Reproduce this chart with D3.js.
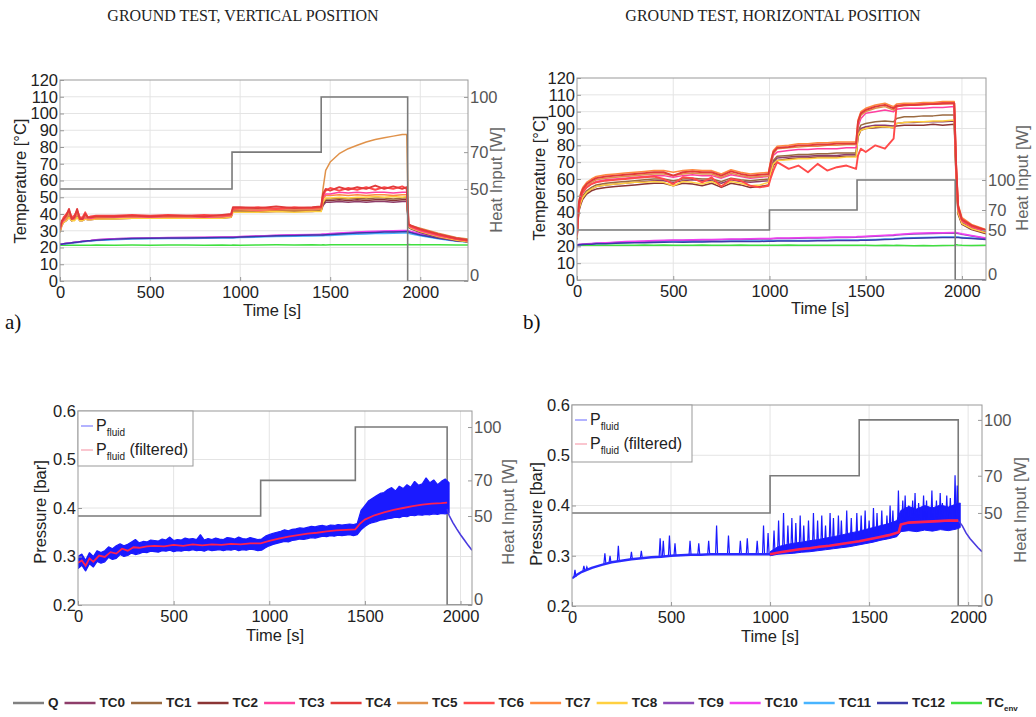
<!DOCTYPE html>
<html>
<head>
<meta charset="utf-8">
<script src="https://cdn.jsdelivr.net/npm/d3@7"></script>
<style>
body { margin: 0; background: #fff; }
svg { display: block; }
text { font-family: Arial, "Liberation Sans", sans-serif; }
</style>
</head>
<body>
<svg id="chart" width="1036" height="717"></svg>
<script>
// ---- names / colours
var tcNames = ["TC0","TC1","TC2","TC3","TC4","TC5","TC6","TC7","TC8","TC9","TC10","TC11","TC12","TCenv"]
var tcColors = ["#8e3d6a","#9a6a40","#8b3434","#ff3fa0","#e23a3a","#e0924a","#ff4a4a","#ff8a40","#ffd040","#8a48b8","#f040f0","#48b4ff","#3a3aa8","#40e040"]
var drawOrder = [13,11,9,10,12,0,2,1,8,7,3,5,6,4]

// ---- heat input steps
var qVt = [0, 955, 1450, 1930, 2265], qVv = [50, 70, 100, 0, 0]
var qHt = [0, 1000, 1455, 1965, 2125], qHv = [50, 70, 100, 0, 0]
var qHPt = [0, 1000, 1450, 1950, 2070], qHPv = [50, 70, 100, 0, 0]

// ---- a) vertical position, temperatures
var tV = [0,10,20,35,50,65,80,95,110,125,140,155,170, 200,300,400,500,600,700,800,900,950,
  960,1000,1100,1200,1300,1400,1450, 1460,1475,1500,1550,1600,1650,1700,1750,1800,1850,1900,1925,
  1935,1950,2000,2100,2200,2265]
var vTC0 = [29,33,35,36,38,36,36.5,38,36,36,37,36.5,36.5, 37,37,37.5,37.5,37.5,37.5,37.5,37.5,38, 41.5,41.5,41,41.5,41.5,41.5,42, 45,47,47,47.5,47,47.5,47,47.5,47.5,47,47.5,47.5, 32,31,29,26,24,23.5]
var vTC1 = [30,34,36,37,39,36.5,37,39,36.5,36.5,37.5,37,37, 37.5,37.5,38,38,38,38,38,38,38.5, 42,42,42,42,42,42,42.5, 47,49,49,49.5,49,49.5,49,49.5,49.5,49,49.5,49.5, 32.5,31.5,29.5,26.5,24.5,23.5]
var vTC2 = [30,34,36,37,39,36,37,39,36.5,36.5,37.5,37,37, 37.5,37.5,38,38,38,38,38,38,38.5, 42,42,41.5,42,42,42,42.5, 46,48,48,48.5,48,48.5,48,48.5,48.5,48,48.5,48.5, 32.5,31.5,29.5,26.5,24.5,23.5]
var vTC3 = [31,35,36,38,41,37,37.5,41,37,37,38,37.5,37.5, 38,38,38.5,38,38.5,38.5,38,38.5,39, 43,43,42.5,43,43,43,43.5, 50,52,52,53,52.5,53,52.5,53,53,52.5,53,53, 33,32,30,27,25,24]
var vTC4 = [32,36,37,39,43,37,38,43,37,37,40,38,38, 38.5,38.5,39,38.5,39,39,38.5,39.5,40, 44,44,43.5,44.5,43.5,44,44.5, 52,55,54,56,54.5,56,55,57,55,56.5,55,56, 34,33,31,28,25.5,24.5]
var vTC5 = [31,35,37,38,41,37,38,41,37,37,39,37.5,38, 38,38.5,38.5,38.5,38.5,38.5,38.5,39,39, 43,43,43,43,43,43,43.5, 55,66,71,76,79,81,83,84.5,85.5,86.5,87.5,87.5, 34,33,31.5,28.5,26,25]
var vTC6 = [31,35,38,40,42,38,39,42,38,38,41,38,38.5, 39,39,39.5,39,39.5,39,39.5,39,39.5, 43,43.5,44,43,44,43.5,44, 51,54,55.5,54,55.5,54.5,56,54.5,56,55,56.5,55, 33.5,32.5,30.5,27.5,25,24]
var vTC7 = [30,34,36,37,40,37,37,40,37,37,38,37,37, 37.5,38,38,38,38,38,38,38.5,38.5, 42.5,42.5,42,42.5,42.5,42.5,43, 49,51,51,51.5,51,51.5,51,51.5,51.5,51,51.5,51.5, 33,32,30,27,25,24]
var vTC8 = [29,33,35,36,38,36,36,38,36,36,37,36.5,36.5, 37,37,37.5,37.5,37.5,37.5,37.5,37.5,38, 41,41,41,41.5,41,41.5,41.5, 47,49.5,49.5,50,49.5,50,50,50.5,50,50.5,50,50.5, 32.5,31.5,29.5,26.5,24.5,23.5]
var vTC9 = [22,22.1,22.3,22.5,22.7,22.9,23.1,23.3,23.5,23.7,23.9,24.1,24.2, 24.6,25.2,25.5,25.7,25.8,25.9,26,26.1,26.2, 26.2,26.4,26.8,27.2,27.4,27.6,27.7, 27.7,27.8,28,28.3,28.6,28.9,29.1,29.3,29.5,29.6,29.7,29.8, 29.6,29.1,27.8,25.8,24.2,23.6]
var vTC10 = [22,22.1,22.3,22.5,22.7,22.9,23.1,23.3,23.5,23.7,23.9,24.1,24.2, 24.6,25.2,25.5,25.7,25.9,26,26.1,26.2,26.3, 26.3,26.5,26.9,27.3,27.6,27.8,27.9, 28,28.1,28.3,28.7,29,29.3,29.5,29.7,29.9,30,30.1,30.2, 30,29.5,28.2,26.2,24.6,24]
var vTC11 = [21.8,21.9,22,22.2,22.4,22.6,22.8,23,23.2,23.4,23.6,23.8,23.9, 24.2,24.7,25,25.2,25.3,25.4,25.5,25.6,25.7, 25.7,25.9,26.2,26.5,26.7,26.9,27, 27,27.1,27.2,27.4,27.7,27.9,28.1,28.3,28.4,28.5,28.6,28.7, 28.5,28,27,25.2,23.8,23.3]
var vTC12 = [22,22,22.2,22.4,22.6,22.8,23,23.2,23.4,23.6,23.8,24,24.1, 24.4,25,25.3,25.5,25.6,25.7,25.8,25.9,26, 26,26.2,26.6,27,27.2,27.4,27.5, 27.5,27.6,27.7,28,28.3,28.6,28.8,29,29.2,29.3,29.4,29.5, 29.3,28.8,27.5,25.5,24,23.5]
var vTCenv = [21.3,21.3,21.3,21.4,21.3,21.4,21.3,21.4,21.4,21.3,21.4,21.4,21.4, 21.5,21.4,21.5,21.4,21.5,21.5,21.4,21.5,21.4, 21.5,21.4,21.5,21.6,21.5,21.6,21.5, 21.6,21.5,21.6,21.7,21.6,21.7,21.6,21.7,21.6,21.7,21.6,21.7, 21.8,21.7,21.6,21.6,21.5,21.5]

// ---- b) horizontal position, temperatures
var tH = [0,5,10,20,30,50,75,100,150,200,250,300, 350,400,450,500,550,600,650,700,750,800,850,900,950,995,
  1005,1020,1040,1100,1150,1200,1250,1300,1350,1400,1450, 1460,1475,1500,1550,1600,1645,1660,1700,1750,1800,1850,1900,1960,
  1970,1980,2000,2050,2125]
var hTC0 = [25,35,42,46,49,52,54,55.5,56.5,57,57.5,58, 58.5,59,59,58,59,59.5,59,59,57.5,59.5,58.5,58,58.5,59, 64,70,72.5,73,73.5,73.5,74,74,74,74.5,74.5, 86,90,91,92,92,91.5,93,93.5,93.5,94,94,94,94.5, 60,40,33.5,30.5,28]
var hTC1 = [25,36,43,47,50,53,55,56.5,57.5,58,58.5,59, 59.5,60,60,59,60,60.5,60,60,58.5,60.5,59.5,59,59.5,60, 65,71,73.5,74,74.5,74.5,75,75,75.5,75.5,75.5, 88,92,93,94,94.5,94,96,97,97,97.5,97.5,98,98, 62,41,34,31,28.5]
var hTC2 = [24,34,41,45,48,51,53,54,55,55.5,56,56.5, 57,57.5,57.5,56,57.5,57,56,57.5,55,57.5,56.5,55,55.5,56.5, 62,68,71,72,72.5,72.5,73,73,73,73.5,73.5, 85,89,90,90.5,91,90.5,91.5,92,92,92,92.5,92,92.5, 58,39,33,30,27.5]
var hTC3 = [26,37,44,49,52,55,57,58.5,59.5,60,60.5,61, 61.5,62,62,61,62,62.5,62,62,60.5,62.5,61.5,60.5,61,61.5, 67,74,76,77,77.5,77.5,78,78,78,78.5,78.5, 91,96,99,100,101,100,101.5,102,102,102,102.5,102.5,103, 65,42,35,31.5,29]
var hTC4 = [27,39,46,51,54,57,59,60.5,61.5,62,62.5,63, 63.5,64,64,62,64,64.5,64,64,62,64.5,63,62,62.5,63, 69,76,78.5,79,80,80,80.5,80.5,81,81,81, 94,99,101,103,104,102,103.5,104,104,104.5,104.5,105,105, 68,44,36,32.5,29.5]
var hTC5 = [27,38,45,50,53,56,58,59.5,60.5,61,61.5,62, 62.5,63,63,62,63,63.5,63,63,61,63.5,62,61,61.5,62, 68,75,78,78.5,79,79.5,79.5,80,80,80.5,80.5, 93,98,100,102,103,101,103,103.5,104,104,104.5,104.5,105, 67,43,35.5,32,29.5]
var hTC6 = [26,37,44,49,52,55,57,58,59,59.5,60,60.5, 61,61.5,60,57,61,60.5,58,61,55.5,60,59,56,55,56, 60,65,70,66,68,64,69,65,67,68,66, 74,78,76,80,78,84,103,104,104,104.5,104.5,105,105, 67,43,35.5,32,29.5]
var hTC7 = [28,40,47,52,55,58,60,61.5,62.5,63,63.5,64, 64.5,65,65,64,65,65.5,65,65,63,65.5,64,63,63.5,64, 70,77,79.5,80,81,81,81.5,81.5,82,82,82, 95,100,102,104,105,103,104.5,105,105,105.5,105.5,106,106, 70,45,37,33,30]
var hTC8 = [25,35,42,46,49,52,54,55.5,56.5,57,57.5,58, 58,58.5,58,56,58.5,58,57,58.5,56,58.5,57.5,56,56.5,58, 63,69,71,71.5,72,72,72.5,72.5,72.5,73,73, 86,89,90,91,91,90.5,93,93.5,94,94,94.5,94.5,95, 60,40,33.5,30.5,28]
var hTC9 = [21,21,21.1,21.2,21.3,21.4,21.6,21.8,22,22.3,22.5,22.7, 22.9,23.1,23.3,23.4,23.5,23.6,23.7,23.8,23.9,24,24.1,24.2,24.3,24.4, 24.4,24.5,24.6,24.7,24.8,24.9,25,25.1,25.2,25.3,25.4, 25.5,25.6,25.7,26,26.3,26.5,26.7,27,27.3,27.5,27.6,27.7,27.8, 27.8,27.6,27.1,26.1,24.6]
var hTC10 = [21,21,21.1,21.2,21.3,21.5,21.7,21.9,22.2,22.5,22.8,23, 23.2,23.4,23.6,23.7,23.8,23.9,24,24.1,24.2,24.3,24.4,24.5,24.6,24.7, 24.7,24.8,24.9,25,25.1,25.2,25.3,25.4,25.5,25.6,25.7, 25.8,25.9,26,26.3,26.6,26.9,27.1,27.4,27.7,27.9,28,28.1,28.2, 28.2,28,27.5,26.5,25]
var hTC11 = [20.8,20.8,20.9,21,21.2,21.3,21.5,21.7,21.9,22.1,22.3,22.4, 22.5,22.6,22.7,22.8,22.8,22.9,22.9,23,23,23.1,23.1,23.2,23.2,23.3, 23.3,23.3,23.4,23.4,23.5,23.5,23.6,23.6,23.7,23.7,23.8, 23.8,23.9,23.9,24.1,24.3,24.5,24.7,24.9,25.1,25.3,25.4,25.5,25.6, 25.6,25.5,25.3,24.9,24.3]
var hTC12 = [20.8,20.8,20.9,21,21.1,21.2,21.3,21.5,21.6,21.8,22,22.1, 22.2,22.3,22.4,22.5,22.5,22.6,22.6,22.7,22.7,22.8,22.8,22.9,22.9,23, 23,23,23.1,23.1,23.2,23.2,23.3,23.3,23.4,23.4,23.5, 23.5,23.6,23.6,23.8,24,24.2,24.4,24.6,24.8,25,25.1,25.2,25.3, 25.3,25.2,25,24.6,24]
var hTCenv = [20.6,20.6,20.6,20.6,20.6,20.6,20.6,20.7,20.7,20.7,20.7,20.7, 20.8,20.7,20.8,20.7,20.6,20.7,20.8,20.7,20.6,20.7,20.8,20.7,20.6,20.7, 20.7,20.6,20.7,20.8,20.7,20.6,20.7,20.6,20.7,20.6,20.7, 20.6,20.7,20.6,20.5,20.6,20.5,20.6,20.5,20.4,20.5,20.4,20.5,20.6, 21,20.8,20.6,20.5,20.6]

// ---- vertical position, pressure
var pvBandT = d3.range(0, 1941, 20)
var pvLo = [.275,.282,.270,.285,.278,.290,.286,.289,.298,.294, .296,.304,.300,.302,.307,.304,.306,.309,.308,.311,
  .310,.309,.312,.311,.313,.310,.312,.311,.313,.312, .314,.312,.313,.311,.314,.312,.313,.314,.312,.314,
  .313,.315,.312,.314,.313,.315,.314,.312,.313,.318, .322,.325,.327,.329,.331,.330,.333,.334,.336,.335,
  .337,.339,.338,.340,.342,.341,.343,.342,.344,.343, .344,.345,.343,.345,.355,.362,.367,.370,.372,.375,
  .376,.378,.379,.381,.380,.383,.382,.385,.384,.386, .385,.387,.386,.388,.387,.389,.388,.390]
var pvHi = [.300,.305,.292,.308,.300,.312,.308,.312,.320,.316, .322,.326,.322,.325,.330,.335,.328,.331,.330,.334,
  .333,.332,.336,.334,.340,.333,.335,.334,.338,.336, .337,.335,.345,.334,.337,.335,.338,.336,.335,.339,
  .338,.336,.340,.337,.336,.339,.337,.335,.336,.342, .345,.348,.350,.352,.355,.353,.356,.357,.359,.358,
  .360,.362,.361,.363,.364,.362,.365,.364,.366,.365, .366,.367,.366,.368,.395,.405,.415,.420,.425,.430,
  .432,.438,.442,.435,.445,.440,.448,.443,.455,.447, .450,.462,.452,.458,.448,.455,.460,.452]
var pvFiltT = [0,20,40,60,80,110,140,170,200,230,260,290,320,360,400,450,500,550,600,650,700,750,800,850,900,955,
  1000,1050,1100,1150,1200,1250,1300,1350,1400,1450,1475,1500,1550,1600,1650,1700,1750,1800,1850,1900,1930]
var pvFiltV = [.287,.292,.281,.296,.289,.302,.299,.309,.306,.316,.312,.319,.318,.321,.322,.321,.324,.322,.325,.323,
  .325,.324,.326,.325,.327,.327,.332,.337,.341,.344,.347,.349,.352,.354,.355,.356,.368,.376,.385,.391,.396,.400,
  .404,.407,.409,.410,.411]
var pvDecT = [1930,1940,1960,1980,2000,2020,2040,2060]
var pvDecV = [.398,.385,.370,.357,.345,.334,.323,.313]

// ---- horizontal position, pressure
var phFiltT = [0,25,50,75,100,150,200,250,300,350,400,450,500,550,600,650,700,750,800,850,900,950,1000,1050,1100,
  1150,1200,1250,1300,1350,1400,1450,1500,1550,1600,1650,1660,1700,1750,1800,1850,1900,1950]
var phFiltV = [.255,.262,.268,.272,.276,.282,.287,.290,.293,.295,.297,.298,.300,.301,.302,.302,.303,.303,.303,.303,
  .303,.303,.303,.307,.310,.313,.315,.318,.320,.323,.326,.329,.333,.337,.341,.347,.362,.366,.367,.368,.369,.370,.370]
var phDecT = [1950,1970,1990,2010,2030,2050,2070]
var phDecV = [.370,.360,.345,.334,.325,.316,.308]
var phBand = [[1000,.300,.308],[1040,.303,.318],[1080,.304,.322],[1120,.305,.325],[1160,.307,.327],[1200,.308,.330],
  [1240,.310,.332],[1280,.312,.335],[1320,.314,.338],[1360,.316,.341],[1400,.318,.345],[1440,.321,.348],[1480,.324,.352],
  [1520,.327,.356],[1560,.331,.360],[1600,.334,.364],[1640,.338,.370],[1660,.348,.390],[1700,.350,.398],[1740,.348,.393],
  [1780,.351,.400],[1820,.349,.395],[1860,.352,.401],[1900,.350,.397],[1940,.353,.403],[1960,.356,.405]]
var phSpikes = [[15,.258,.272],[60,.270,.280],[75,.272,.278],[166,.284,.305],[192,.286,.300],[234,.289,.320],[300,.293,.308],
  [350,.295,.310],[445,.298,.335],[461,.298,.330],[492,.300,.340],[520,.300,.325],[596,.302,.330],[640,.302,.325],
  [690,.303,.330],[730,.303,.360],[790,.303,.340],[850,.303,.330],[885,.303,.335],[935,.303,.330],[967,.303,.360],
  [990,.303,.345],[1020,.305,.350],[1043,.306,.370],[1068,.308,.385],[1090,.309,.360],[1110,.310,.375],[1130,.311,.365],
  [1152,.312,.380],[1170,.313,.360],[1194,.315,.370],[1219,.316,.385],[1240,.317,.370],[1261,.318,.380],[1280,.319,.360],
  [1303,.320,.385],[1320,.321,.375],[1345,.323,.380],[1360,.324,.370],[1387,.325,.390],[1410,.327,.375],[1438,.328,.385],
  [1460,.330,.380],[1480,.331,.390],[1500,.333,.370],[1522,.335,.395],[1540,.336,.385],[1564,.338,.390],[1590,.340,.380],
  [1606,.342,.400],[1620,.343,.390],[1648,.347,.430],[1670,.362,.410],[1682,.363,.420],[1700,.366,.400],[1720,.366,.410],
  [1732,.366,.425],[1750,.367,.405],[1775,.367,.420],[1790,.368,.410],[1817,.368,.430],[1840,.369,.410],[1859,.369,.425],
  [1870,.369,.405],[1892,.370,.420],[1910,.370,.415],[1934,.370,.460],[1945,.370,.440]]

// ---- ticks
var timeTicks = [0, 500, 1000, 1500, 2000]
var tempTicks = d3.range(0, 121, 10)
var presTicks = [0.2, 0.3, 0.4, 0.5, 0.6]
var qTicks = [0, 50, 70, 100]

var svg = d3.select("#chart")
var clipId = 0

function panel(o) {
    var g = svg.append("g"),
        x = d3.scaleLinear().domain([0, o.xMax]).range([o.l, o.r]),
        y = d3.scaleLinear().domain(o.yDom).range([o.b, o.t]),
        yq = d3.scaleLinear().domain([0, o.qMax]).range([o.b, o.t])

    // grid
    g.selectAll(null).data(timeTicks.slice(1)).enter().append("line")
        .attr("x1", x).attr("x2", x).attr("y1", o.t).attr("y2", o.b)
        .attr("stroke", "#e4e4e4")
    g.selectAll(null).data(o.yTicks.slice(1, -1)).enter().append("line")
        .attr("x1", o.l).attr("x2", o.r).attr("y1", y).attr("y2", y)
        .attr("stroke", "#e4e4e4")

    var id = "clip" + (clipId++)
    svg.append("clipPath").attr("id", id).append("rect")
        .attr("x", o.l).attr("y", o.t).attr("width", o.r - o.l).attr("height", o.b - o.t)
    var plot = g.append("g").attr("clip-path", "url(#" + id + ")")

    // axes
    var ax = g.append("g").attr("transform", "translate(0," + o.b + ")")
        .call(d3.axisBottom(x).tickValues(timeTicks).tickFormat(d3.format("d")).tickSizeInner(-4).tickSizeOuter(0).tickPadding(5))
    var ay = g.append("g").attr("transform", "translate(" + o.l + ",0)")
        .call(d3.axisLeft(y).tickValues(o.yTicks).tickFormat(o.yFmt).tickSizeInner(-4).tickSizeOuter(0).tickPadding(2))
    var aq = g.append("g").attr("transform", "translate(" + o.r + ",0)")
        .call(d3.axisRight(yq).tickValues(qTicks).tickSizeInner(-4).tickSizeOuter(0).tickPadding(2))
    ;[ax, ay, aq].forEach(function(a) {
        a.select(".domain").remove()
        a.selectAll("line").attr("stroke", "#999")
        a.selectAll("text").attr("font-size", 16.5).attr("fill", "#222").style("font-family", "Arial, 'Liberation Sans', sans-serif")
    })
    aq.selectAll("text").attr("fill", "#555")
    // the right-hand zero sits a little above the corner, as in the figure
    aq.selectAll(".tick").filter(function(d) { return d == 0 }).select("text").attr("dy", "-0.05em")

    g.append("rect").attr("x", o.l).attr("y", o.t).attr("width", o.r - o.l).attr("height", o.b - o.t)
        .attr("fill", "none").attr("stroke", "#999")

    // labels
    g.append("text").attr("transform", "translate(" + o.ylx + "," + o.lyc + ") rotate(-90)")
        .attr("text-anchor", "middle").attr("font-size", 16.5).attr("fill", "#222").text(o.yLabel)
    g.append("text").attr("transform", "translate(" + o.qlx + "," + o.qyc + ") rotate(-90)")
        .attr("text-anchor", "middle").attr("font-size", 16.5).attr("fill", "#666").text("Heat Input [W]")
    g.append("text").attr("x", o.tx).attr("y", o.ty).attr("text-anchor", "middle")
        .attr("font-size", 16.5).attr("fill", "#222").text("Time [s]")

    return { g: g, plot: plot, x: x, y: y, yq: yq }
}

function drawQ(p, ts, vs) {
    var line = d3.line().curve(d3.curveStepAfter).x(function(d) { return p.x(d[0]) }).y(function(d) { return p.yq(d[1]) })
    p.plot.append("path").datum(d3.zip(ts, vs)).attr("d", line)
        .attr("fill", "none").attr("stroke", "#7a7a7a").attr("stroke-width", 1.6)
}

function drawTemps(p, ts, series) {
    var line = d3.line().x(function(d) { return p.x(d[0]) }).y(function(d) { return p.y(d[1]) })
    drawOrder.forEach(function(i) {
        p.plot.append("path").datum(d3.zip(ts, series[i])).attr("d", line)
            .attr("fill", "none").attr("stroke", tcColors[i])
            .attr("stroke-width", (i == 4 || i == 6) ? 1.9 : 1.5)
            .attr("stroke-linejoin", "round")
    })
}

function pLegend(p, x0, y0, w, h) {
    var lg = p.g.append("g")
    lg.append("rect").attr("x", x0).attr("y", y0).attr("width", w).attr("height", h)
        .attr("fill", "#fff").attr("stroke", "#999")
    var rows = [{ c: "#8080ff", extra: "", yy: y0 + 20 }, { c: "#f7a0b0", extra: " (filtered)", yy: y0 + 44 }]
    rows.forEach(function(r) {
        lg.append("line").attr("x1", x0 + 3).attr("x2", x0 + 15).attr("y1", r.yy - 5).attr("y2", r.yy - 5)
            .attr("stroke", r.c).attr("stroke-width", 1.2)
        var t = lg.append("text").attr("x", x0 + 18).attr("y", r.yy).attr("font-size", 16).attr("fill", "#222")
        t.append("tspan").text("P")
        t.append("tspan").attr("font-size", 10).attr("dy", 5).text("fluid")
        if (r.extra) t.append("tspan").attr("dy", -5).attr("font-size", 16).text(r.extra)
    })
}

// ---- titles
var serif = "'Liberation Serif', 'Times New Roman', serif"
svg.append("text").attr("x", 243).attr("y", 21).attr("text-anchor", "middle")
    .style("font-family", serif).attr("font-size", 16).attr("fill", "#222")
    .text("GROUND TEST, VERTICAL POSITION")
svg.append("text").attr("x", 773).attr("y", 21).attr("text-anchor", "middle")
    .style("font-family", serif).attr("font-size", 16).attr("fill", "#222")
    .text("GROUND TEST, HORIZONTAL POSITION")
svg.append("text").attr("x", 5).attr("y", 329)
    .style("font-family", serif).attr("font-size", 21).attr("fill", "#111").text("a)")
svg.append("text").attr("x", 523).attr("y", 329)
    .style("font-family", serif).attr("font-size", 21).attr("fill", "#111").text("b)")

var fmtInt = d3.format("d"), fmtP = d3.format(".1f")

// ---- a) temperatures
var pTL = panel({ l: 60, r: 468, t: 80, b: 281, xMax: 2265, yDom: [0, 120], yTicks: tempTicks, yFmt: fmtInt, qMax: 109.2,
    yLabel: "Temperature [°C]", ylx: 26, lyc: 181, qlx: 502, qyc: 180, tx: 272, ty: 316 })
drawTemps(pTL, tV, [vTC0, vTC1, vTC2, vTC3, vTC4, vTC5, vTC6, vTC7, vTC8, vTC9, vTC10, vTC11, vTC12, vTCenv])
drawQ(pTL, qVt, qVv)

// ---- b) temperatures
var pTR = panel({ l: 577, r: 986, t: 78, b: 280, xMax: 2125, yDom: [0, 120], yTicks: tempTicks, yFmt: fmtInt, qMax: 202,
    yLabel: "Temperature [°C]", ylx: 545, lyc: 178, qlx: 1028, qyc: 178, tx: 820, ty: 314 })
drawTemps(pTR, tH, [hTC0, hTC1, hTC2, hTC3, hTC4, hTC5, hTC6, hTC7, hTC8, hTC9, hTC10, hTC11, hTC12, hTCenv])
drawQ(pTR, qHt, qHv)

// ---- vertical pressure
var pBL = panel({ l: 78, r: 472, t: 411, b: 605, xMax: 2060, yDom: [0.2, 0.6], yTicks: presTicks, yFmt: fmtP, qMax: 109,
    yLabel: "Pressure [bar]", ylx: 46, lyc: 512, qlx: 514, qyc: 512, tx: 275, ty: 641 })
drawQ(pBL, qVt, qVv)
var bandV = d3.area().x(function(d) { return pBL.x(d[0]) }).y0(function(d) { return pBL.y(d[1]) }).y1(function(d) { return pBL.y(d[2]) })
pBL.plot.append("path").datum(d3.zip(pvBandT, pvLo, pvHi)).attr("d", bandV)
    .attr("fill", "#1a1aff").attr("stroke", "#1a1aff").attr("stroke-width", 1.2).attr("stroke-linejoin", "bevel")
var lineBL = d3.line().x(function(d) { return pBL.x(d[0]) }).y(function(d) { return pBL.y(d[1]) })
pBL.plot.append("path").datum(d3.zip(pvDecT, pvDecV)).attr("d", lineBL).attr("fill", "none").attr("stroke", "#4a3adf").attr("stroke-width", 1.6)
pBL.plot.append("path").datum(d3.zip(pvFiltT, pvFiltV)).attr("d", lineBL).attr("fill", "none").attr("stroke", "#ff2050").attr("stroke-width", 1.8)
pLegend(pBL, 78, 411, 115, 55)

// ---- horizontal pressure
var pBR = panel({ l: 572, r: 982, t: 405, b: 606, xMax: 2070, yDom: [0.2, 0.6], yTicks: presTicks, yFmt: fmtP, qMax: 108,
    yLabel: "Pressure [bar]", ylx: 542, lyc: 514, qlx: 1026, qyc: 510, tx: 770, ty: 642 })
drawQ(pBR, qHPt, qHPv)
var lineBR = d3.line().x(function(d) { return pBR.x(d[0]) }).y(function(d) { return pBR.y(d[1]) })
var bandH = d3.area().x(function(d) { return pBR.x(d[0]) }).y0(function(d) { return pBR.y(d[1]) }).y1(function(d) { return pBR.y(d[2]) })
pBR.plot.append("path").datum(phBand).attr("d", bandH).attr("fill", "#1a1aff").attr("stroke", "#1a1aff").attr("stroke-width", 1)
pBR.plot.selectAll(null).data(phSpikes).enter().append("path")
    .attr("d", function(d) {
        var xc = pBR.x(d[0])
        return "M" + (xc - 1) + "," + pBR.y(d[1]) + "L" + xc + "," + pBR.y(d[2]) + "L" + (xc + 1) + "," + pBR.y(d[1])
    })
    .attr("fill", "none").attr("stroke", "#1a1aff").attr("stroke-width", 1.2)
pBR.plot.append("path").datum(d3.zip(phFiltT, phFiltV)).attr("d", lineBR).attr("fill", "none").attr("stroke", "#2a2aff").attr("stroke-width", 2.4)
pBR.plot.append("path").datum(d3.zip(phDecT, phDecV)).attr("d", lineBR).attr("fill", "none").attr("stroke", "#4a3adf").attr("stroke-width", 1.6)
pBR.plot.append("path").datum(d3.zip(phFiltT, phFiltV).filter(function(d) { return d[0] >= 1000 })).attr("d", lineBR)
    .attr("fill", "none").attr("stroke", "#ff2050").attr("stroke-width", 2.6)
pLegend(pBR, 572, 405, 120, 57)

// ---- bottom legend
var legItems = [{ name: "Q", c: "#808080" }].concat(tcNames.map(function(n, i) { return { name: n, c: tcColors[i] } }))
var lx = 13, ly = 707
var leg = svg.append("g")
legItems.forEach(function(it) {
    leg.append("line").attr("x1", lx).attr("x2", lx + 31).attr("y1", ly - 4).attr("y2", ly - 4)
        .attr("stroke", it.c).attr("stroke-width", 2.5)
    var t = leg.append("text").attr("x", lx + 35).attr("y", ly).attr("font-size", 13.5).attr("font-weight", "bold").attr("fill", "#222")
    if (it.name == "TCenv") {
        t.append("tspan").text("TC")
        t.append("tspan").attr("font-size", 8).attr("dy", 4).text("env")
    } else {
        t.text(it.name)
    }
    lx += 35 + t.node().getComputedTextLength() + 6
})
</script>
</body>
</html>
